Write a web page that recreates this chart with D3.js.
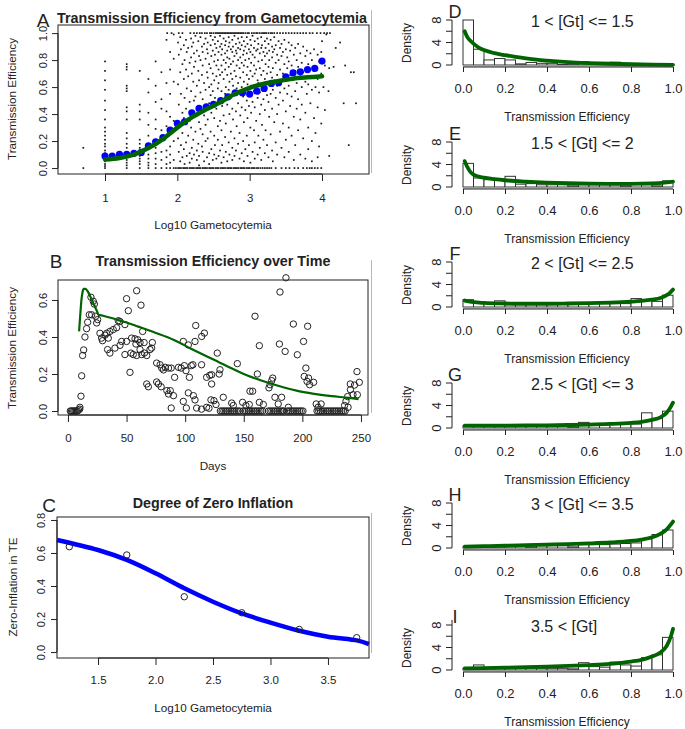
<!DOCTYPE html>
<html><head><meta charset="utf-8">
<script src="https://cdn.jsdelivr.net/npm/d3@7"></script>
<style>body{margin:0;background:#fff}</style></head>
<body><svg id="c" width="685" height="729"></svg>
<script>
const FONT = '"Liberation Sans", Arial, sans-serif';
const INK = "#222";
const GREEN = "#006400";
const BLUE = "#0000ff";

// ---------- Panel A data ----------
const aCols = [
 [0.70,[0.15,0]],
 [1.00,[0.79,0.72,0.65,0.58,0.5,0.43,0.36,0.3,0.27,0.24,0.21,0.18,0.16,0.13,0.11,0.09,0.07,0.05,0.03,0.015,0]],
 [1.30,[0.77,0.75,0.73,0.61,0.59,0.57,0.45,0.42,0.36,0.26,0.22,0.18,0.15,0.12,0.1,0.08,0.06,0.04,0.02,0]],
 [1.48,[0.72,0.47,0.42,0.36,0.21,0.18,0.15,0.12,0.09,0.07,0.05,0.03,0]],
 [1.60,[0.66,0.56,0.41,0.32,0.24,0.18,0.14,0.1,0.07,0.04,0.02,0]],
 [1.70,[0.79,0.61,0.49,0.36,0.29,0.21,0.15,0.11,0.07,0.03,0]],
 [1.78,[0.71,0.51,0.44,0.28,0.22,0.12,0.06,0]],
 [1.85,[0.95,0.63,0.42,0.31,0.13,0.08,0.03,0]],
 [1.90,[0.86,0.73,0.55,0.38,0.16,0.1,0.04,0]],
 [1.95,[0.99,0.81,0.64,0.35,0.2,0.06,0]],
 [2.01,[0.93,0.62,0.22]],[2.02,[0.84,0.47,0.12]],[2.04,[0.71,0.31,0.05,0.97]],[2.05,[0.88,0.55,0.17]],
 [2.07,[0.77,0.41,0.26,0.08]],[2.09,[0.91,0.66,0.37,0.14]],[2.10,[0.8,0.52,0.03]],[2.12,[0.95,0.73,0.44,0.19]],
 [2.13,[0.86,0.59,0.33,0.09]],[2.15,[0.89,0.68,0.24]],[2.17,[0.78,0.49,0.35,0.11,0.04]],[2.19,[0.96,0.82,0.57,0.3]],
 [2.20,[0.9,0.7,0.42,0.15,0.07]],[2.22,[0.93,0.64,0.38,0.21]],[2.23,[0.85,0.75,0.5,0.1]],[2.25,[0.98,0.79,0.53,0.27]],
 [2.27,[0.87,0.61,0.4,0.13,0.06]],[2.29,[0.94,0.72,0.46,0.18]],[2.30,[0.83,0.65,0.34,0.09,0.02]],[2.32,[0.97,0.8,0.56,0.29]],
 [2.34,[0.9,0.69,0.43,0.16]],[2.35,[0.86,0.76,0.51,0.25,0.12]],[2.37,[0.92,0.63,0.39,0.05]],[2.39,[0.96,0.81,0.58,0.32,0.2]],
 [2.41,[0.88,0.71,0.45,0.08]],[2.42,[0.93,0.85,0.67,0.36,0.22]],[2.44,[0.77,0.6,0.48,0.11,0.03]],[2.46,[0.98,0.91,0.74,0.54,0.27]],
 [2.47,[0.83,0.62,0.41,0.14]],[2.49,[0.95,0.87,0.7,0.57,0.06]],[2.51,[0.79,0.65,0.37,0.24,0.1]],[2.52,[0.97,0.92,0.84,0.52,0.17]],
 [2.54,[0.89,0.76,0.68,0.44,0.07]],[2.56,[0.94,0.8,0.59,0.31,0.21]],[2.57,[0.86,0.73,0.63,0.5,0.09]],[2.59,[0.98,0.9,0.69,0.35,0.13]],
 [2.61,[0.92,0.84,0.76,0.57,0.28,0.04]],[2.62,[0.88,0.71,0.46,0.17]],[2.64,[0.96,0.8,0.66,0.39,0.08]],[2.66,[0.91,0.85,0.73,0.55,0.23]],
 [2.67,[0.94,0.78,0.6,0.33,0.12]],[2.69,[0.87,0.82,0.69,0.47,0.05]],[2.71,[0.97,0.9,0.75,0.58,0.19]],[2.72,[0.93,0.81,0.64,0.4,0.1]],
 [2.74,[0.88,0.77,0.7,0.52,0.27]],[2.76,[0.95,0.86,0.66,0.44,0.15,0.06]],[2.77,[0.9,0.79,0.61,0.36]],[2.79,[0.98,0.83,0.72,0.54,0.22,0.09]],
 [2.81,[0.92,0.87,0.68,0.42,0.13]],[2.82,[0.85,0.76,0.59,0.31]],[2.84,[0.96,0.89,0.8,0.63,0.48,0.18]],[2.86,[0.93,0.74,0.56,0.26,0.07]],
 [2.87,[0.88,0.82,0.67,0.39]],[2.89,[0.97,0.91,0.78,0.6,0.45,0.11]],[2.91,[0.84,0.71,0.53,0.2]],[2.92,[0.94,0.87,0.76,0.64,0.34,0.05]],
 [2.94,[0.9,0.8,0.58,0.43,0.14]],[2.96,[0.97,0.85,0.69,0.5,0.24]],[2.97,[0.92,0.75,0.62,0.37,0.09]],[2.99,[0.88,0.81,0.66,0.46,0.17]],
 [3.01,[0.95,0.86,0.72,0.55,0.3,0.04]],[3.02,[0.91,0.78,0.61,0.41]],[3.04,[0.98,0.84,0.68,0.49,0.12]],[3.06,[0.89,0.76,0.57,0.28]],
 [3.07,[0.94,0.82,0.7,0.45,0.19,0.07]],[3.09,[0.87,0.73,0.6,0.35]],[3.11,[0.96,0.88,0.65,0.52,0.1]],[3.12,[0.92,0.79,0.63,0.24]],
 [3.14,[0.85,0.74,0.56,0.4,0.15]],[3.16,[0.97,0.89,0.69,0.47,0.06]],[3.17,[0.91,0.8,0.59,0.32]],[3.19,[0.86,0.72,0.51,0.21]],
 [3.21,[0.94,0.83,0.66,0.43,0.11]],[3.22,[0.89,0.77,0.6,0.28]],[3.24,[0.96,0.85,0.7,0.54,0.17]],[3.26,[0.92,0.75,0.49,0.08]],
 [3.27,[0.87,0.8,0.63,0.38]],[3.29,[0.95,0.71,0.55,0.25]],[3.31,[0.9,0.82,0.67,0.44,0.13]],[3.32,[0.86,0.74,0.58,0.05]],
 [3.34,[0.97,0.88,0.65,0.34]],[3.36,[0.91,0.78,0.52,0.19]],[3.38,[0.84,0.69,0.61,0.4,0.1]],[3.40,[0.94,0.8,0.47]],
 [3.42,[0.89,0.73,0.56,0.27]],[3.44,[0.92,0.83,0.64,0.15]],[3.46,[0.86,0.7,0.5,0.33]],[3.48,[0.95,0.77,0.59,0.08]],
 [3.50,[0.88,0.67,0.42,0.21]],[3.52,[0.82,0.74,0.55]],[3.54,[0.93,0.79,0.61,0.3,0.12]],[3.56,[0.87,0.69,0.46]],
 [3.58,[0.91,0.76,0.53,0.24]],[3.61,[0.84,0.66,0.38,0.06]],[3.63,[0.89,0.72,0.57,0.17]],[3.65,[0.8,0.63,0.44]],
 [3.67,[0.92,0.75,0.51,0.28]],[3.70,[0.85,0.68,0.36,0.1]],[3.72,[0.78,0.6,0.47]],[3.74,[0.9,0.71,0.22]],
 [3.77,[0.83,0.64,0.41,0.07]],[3.79,[0.87,0.73,0.55]],[3.81,[0.77,0.62,0.3,0.14]],[3.84,[0.85,0.68,0.48]],
 [3.86,[0.8,0.58,0.2,0.05]],[3.89,[0.88,0.72,0.37]],[3.91,[0.75,0.6,0.26]],[3.94,[0.84,0.66,0.45,0.08]],
 [3.96,[0.79,0.56,0.16]],[3.99,[0.86,0.7,0.33]]
];
const aTopRowX = [1.86,1.92,2.02,2.07,2.18,2.23,2.27,2.31,2.34,2.38,2.41,2.45,2.47,2.5,2.53,2.55,2.57,2.59,2.61,2.63,2.65,2.67,2.69,2.71,2.73,2.75,2.77,2.79,2.81,2.83,2.85,2.87,2.89,2.91,2.94,2.97,2.99,3.03,3.06,3.09,3.11,3.14,3.17,3.19,3.21,3.23,3.26,3.29,3.31,3.34,3.38,3.42,3.46,3.5,3.54,3.58,3.62,3.66,3.7,3.74,3.78,3.83,3.87,3.93,3.98,4.03,4.07,4.11];
const aZeroRowX = [1.98,2.01,2.03,2.05,2.08,2.1,2.12,2.14,2.17,2.19,2.21,2.23,2.26,2.28,2.3,2.32,2.35,2.37,2.39,2.41,2.44,2.46,2.48,2.5,2.53,2.55,2.57,2.6,2.62,2.64,2.66,2.69,2.71,2.73,2.75,2.78,2.8,2.82,2.84,2.87,2.89,2.91,2.93,2.96,2.98,3.0,3.03,3.05,3.07,3.1,3.12,3.15,3.18,3.21,3.24,3.27,3.3,3.36,3.44,3.5,3.55,3.62,3.67,3.74,3.79,3.83,3.86,3.9,3.94,3.99];
const aOutliers = [[4.04,0.76],[4.09,0.57],[4.1,0.74],[4.16,0.75],[4.19,0.89],[4.32,0.76],[4.4,0.71],[4.44,0.71],[4.3,0.48],[4.47,0.48],[4.04,0.43],[4.37,0.17],[4.1,0.09],[4.02,0.6],[4.0,0.94],[4.25,0.93],[4.06,0.99]];
const aMeanX = [1.0,1.1,1.2,1.3,1.4,1.5,1.6,1.7,1.8,1.9,2.0,2.1,2.2,2.3,2.4,2.5,2.6,2.7,2.8,2.9,3.0,3.1,3.2,3.3,3.4,3.5,3.6,3.7,3.8,3.9,4.0];
const aMeanY = [0.089,0.089,0.101,0.101,0.109,0.116,0.165,0.195,0.225,0.281,0.331,0.343,0.41,0.442,0.454,0.472,0.499,0.528,0.558,0.558,0.548,0.57,0.59,0.627,0.632,0.676,0.706,0.713,0.73,0.738,0.793];
const aFitX = [1.0,1.2,1.4,1.6,1.8,2.0,2.2,2.4,2.6,2.8,3.0,3.2,3.4,3.6,3.8,4.0];
const aFitY = [0.064,0.075,0.1,0.148,0.215,0.3,0.375,0.435,0.49,0.55,0.595,0.625,0.645,0.662,0.672,0.68];

// ---------- Panel B data ----------
const bPoints = [[2,0],[3,0],[4,0],[5,0],[6,0],[7,0],[8,0],[9,0.005],[10,0.01],
 [10.2,0.02],[11.1,0.08],[11.7,0.19],[12.5,0.3],[13.4,0.33],[14.5,0.4],[15.9,0.445],[16.8,0.48],[18.2,0.52],[20.2,0.52],[19.6,0.615],[21.6,0.593],[22.5,0.578],[23.6,0.512],[25.3,0.494],[24.5,0.476],[27.3,0.42],[28.7,0.394],[31.6,0.41],[29.5,0.38],
 [34.4,0.394],[33,0.42],[35.8,0.43],[38.6,0.44],[41.5,0.45],[42.9,0.488],[44.3,0.484],[48.6,0.467],[50,0.607],[51.5,0.542],[58.6,0.65],[62.3,0.572],
 [35.8,0.313],[33.8,0.332],[40.1,0.34],[44.4,0.355],[45.8,0.376],[50,0.376],[54.3,0.394],[57.2,0.39],[58,0.362],[59.5,0.385],[61.5,0.37],
 [48.6,0.305],[53.7,0.313],[55.7,0.305],[58.6,0.3],[61.5,0.332],[62.9,0.305],[65.2,0.313],[67.2,0.3],[70,0.332],[71.4,0.34],[72,0.37],[63.7,0.43],[65,0.37],
 [52.9,0.209],
 [75.7,0.259],[78.6,0.25],[80,0.232],[81.5,0.222],[83,0.236],[85.8,0.232],[88.1,0.232],[91,0.182],[94.3,0.236],[96.6,0.232],[99.3,0.245],[100.7,0.218],[105.2,0.245],[103.6,0.182],[106.6,0.25],[108.4,0.376],[109,0.462],[114.1,0.403],[116.4,0.421],[98.4,0.376],[102.7,0.357],[114,0.25],[118.3,0.182],[121,0.193],[122.6,0.146],
 [67.2,0.146],[68.6,0.131],[75.7,0.157],[77.2,0.146],[79.5,0.131],[84.4,0.11],[85.8,0.092],[87.3,0.11],[90,0.083],[98.4,0.052],[102.7,0.098],[107,0.083],[108.4,0.06],[88.1,0.016],[101,0.016],[109.8,0.016],[114,0.01],[118.3,0.02],[120.3,0.015],[122,0.06],
 [186,0.72],[180.9,0.643],[159.6,0.512],[192.3,0.47],[204.5,0.458],[163.3,0.353],[180.4,0.362],[185.3,0.322],[201,0.376],[195.7,0.304],[127.4,0.313],[129.7,0.223],[129,0.2],[122.6,0.196],[144.5,0.256],[161.6,0.2],[172.4,0.142],[173.8,0.164],[171.5,0.125],[174.7,0.178],[203,0.232],[201.6,0.187],[205.3,0.178],[206.2,0.142],[209.6,0.155],[204,0.16],[155.3,0.107],[157.6,0.107],[132.5,0.074],[124.6,0.056],[126.3,0.035],[139.7,0.043],[141.1,0.03],[149,0.047],[151.8,0.03],[154.7,0.035],[163.3,0.047],[166.7,0.035],[176.6,0.074],[182.3,0.074],[179.4,0.038],[188,0.02],[211.8,0.038],[216,0.038],[213.4,0.02],[246.6,0.213],[248.6,0.155],[240.9,0.146],[243.2,0.088],[238.6,0.078],[237.2,0.053],[246.9,0.088],[241,0.115],[244.5,0.14],[236,0.03],[239,0.02]];
const bZeroDays = [130,131.5,133,134.5,136,137.5,139,140.5,142,143.5,145,146.5,
 149.5,151,152.5,154,155.5,157,158.5,160,161.5,163,164.5,166,
 171,172.5,174,175.5,177,178.5,180,181.5,183,184,
 187,188.5,190,191.5,193,194.5,196,197.5,199,200.5,
 212.5,214,215.5,217,218.5,220,221.5,223,224.5,226,227.5,229,230.5,232,233.5,235,236.5];
const bFit = [[9.5,0.43],[10.5,0.52],[11.5,0.6],[12.5,0.645],[13.5,0.66],[15,0.66],[17,0.645],[19,0.62],[21,0.59],[23,0.565],[25,0.535],[26,0.52],[30,0.515],[40,0.497],[50,0.478],[60,0.456],[75,0.422],[90,0.385],[105,0.337],[120,0.29],[135,0.245],[150,0.2],[165,0.165],[180,0.135],[195,0.11],[210,0.093],[225,0.08],[240,0.071],[248,0.064]];

// ---------- Panel C data ----------
const cX = [1.25,1.75,2.25,2.75,3.25,3.75];
const cY = [0.638,0.588,0.335,0.238,0.137,0.087];
const cFit = [[1.143,0.679],[1.5,0.618],[1.75,0.558],[2.0,0.477],[2.25,0.386],[2.5,0.305],[2.75,0.234],[3.0,0.178],[3.25,0.129],[3.5,0.093],[3.76,0.069],[3.857,0.048]];

// ---------- Panels D–I data ----------
const histLetters = ["D","E","F","G","H","I"];
const histLabels = ["1 < [Gt] <= 1.5","1.5 < [Gt] <= 2","2 < [Gt] <= 2.5","2.5 < [Gt] <= 3","3 < [Gt] <= 3.5","3.5 < [Gt]"];
const histBins = [0,0.05,0.1,0.15,0.2,0.25,0.3,0.35,0.4,0.45,0.5,0.55,0.6,0.65,0.7,0.75,0.8,0.85,0.9,0.95,1.0];
const histD = [8.0,2.8,0.9,1.15,0.9,0.2,0.45,0.3,0.3,0.1,0.2,0.55,0.2,0.2,0.5,0.2,0,0,0,0];
const histE = [4.2,1.6,1.3,1.2,1.9,0.5,0.6,0.4,0.4,0.4,0.2,0.4,0.4,0.4,0.4,0.2,0.7,0.4,0.2,1.1];
const histF = [1.3,0.7,0.7,1.1,0.4,0.5,0.5,0.5,0.5,0.5,0.8,0.6,0.6,0.6,0.6,0.6,1.5,1.2,1.0,2.1];
const histG = [0.4,0.4,0.4,0.4,0.4,0.4,0.4,0.4,0.4,0.4,0.2,1.0,0.8,0.7,0.8,0.9,0.7,2.7,1.7,3.0];
const histH = [0.2,0.2,0.2,0.4,0.4,0.4,0.2,0.4,0.4,0.4,0.2,0.6,0.6,0.6,0.7,0.8,0.9,1.6,2.4,3.2];
const histI = [0.3,0.9,0.3,0.3,0.3,0.6,0.3,0.3,0.3,0.3,0.2,1.3,0.6,0.5,1.4,0.9,0.7,2.2,2.7,5.8];
const fitD = [[0.008,6.0],[0.02,5.0],[0.035,4.3],[0.05,3.8],[0.075,3.1],[0.1,2.65],[0.15,2.1],[0.2,1.75],[0.25,1.45],[0.3,1.18],[0.35,0.95],[0.4,0.78],[0.5,0.52],[0.6,0.35],[0.7,0.22],[0.8,0.13],[0.9,0.07],[1.0,0.03]];
const fitE = [[0.008,4.6],[0.02,3.6],[0.035,2.7],[0.05,2.2],[0.075,1.85],[0.1,1.65],[0.15,1.4],[0.2,1.2],[0.3,0.95],[0.4,0.78],[0.5,0.67],[0.6,0.6],[0.7,0.57],[0.8,0.57],[0.9,0.63],[0.95,0.72],[1.0,0.95]];
const fitF = [[0.008,1.15],[0.05,0.85],[0.1,0.72],[0.2,0.62],[0.3,0.58],[0.4,0.58],[0.5,0.62],[0.6,0.68],[0.7,0.78],[0.8,0.95],[0.85,1.08],[0.9,1.3],[0.94,1.6],[0.97,2.1],[0.99,2.7],[1.0,3.1]];
const fitG = [[0.008,0.42],[0.1,0.42],[0.2,0.43],[0.3,0.45],[0.4,0.48],[0.5,0.53],[0.6,0.6],[0.7,0.72],[0.8,0.92],[0.85,1.1],[0.9,1.45],[0.94,1.9],[0.97,2.7],[0.99,3.8],[1.0,4.5]];
const fitH = [[0.008,0.25],[0.1,0.32],[0.2,0.4],[0.3,0.5],[0.4,0.6],[0.5,0.7],[0.6,0.82],[0.7,0.98],[0.8,1.25],[0.85,1.5],[0.9,1.9],[0.94,2.5],[0.97,3.3],[0.99,4.2],[1.0,4.7]];
const fitI = [[0.008,0.3],[0.1,0.35],[0.2,0.42],[0.3,0.5],[0.4,0.6],[0.5,0.72],[0.6,0.88],[0.7,1.1],[0.8,1.5],[0.85,1.8],[0.9,2.4],[0.94,3.1],[0.97,4.3],[0.99,6.0],[1.0,7.3]];
const histTicksX = [0,0.2,0.4,0.6,0.8,1.0];
const histTicksY = [0,2,4,6,8];
const histLabelY = [0,4,8];

// ---------- helpers ----------
const svg = d3.select("#c");

function txt(x, y, s, size, opts = {}) {
  const t = svg.append("text").attr("x", x).attr("y", y).text(s)
    .attr("font-family", FONT).attr("font-size", size).attr("fill", opts.fill || INK)
    .attr("text-anchor", opts.anchor || "middle");
  if (opts.bold) t.attr("font-weight", "bold");
  if (opts.rot) t.attr("transform", `rotate(-90,${x},${y})`);
  return t;
}

function leftAxis(x, scale, ticks, fmt, fs, labelOff, tickLen) {
  const g = svg.append("g").attr("transform", `translate(${x},0)`)
    .call(d3.axisLeft(scale).tickValues(ticks).tickFormat(fmt).tickSize(tickLen).tickSizeOuter(0));
  g.select(".domain").remove();
  g.append("line").attr("x1", 0).attr("x2", 0)
    .attr("y1", scale(ticks[0])).attr("y2", scale(ticks[ticks.length - 1])).attr("stroke", INK);
  g.selectAll(".tick line").attr("stroke", INK);
  g.selectAll(".tick text").attr("transform", "rotate(-90)").attr("x", 0).attr("y", -labelOff)
    .attr("dy", 0).attr("text-anchor", "middle").attr("font-size", fs)
    .attr("font-family", FONT).attr("fill", INK);
  return g;
}

function bottomAxis(y, scale, ticks, fmt, fs, labelOff, tickLen) {
  const g = svg.append("g").attr("transform", `translate(0,${y})`)
    .call(d3.axisBottom(scale).tickValues(ticks).tickFormat(fmt).tickSize(tickLen).tickSizeOuter(0));
  g.select(".domain").remove();
  g.append("line").attr("y1", 0).attr("y2", 0)
    .attr("x1", scale(ticks[0])).attr("x2", scale(ticks[ticks.length - 1])).attr("stroke", INK);
  g.selectAll(".tick line").attr("stroke", INK);
  g.selectAll(".tick text").attr("y", labelOff).attr("dy", 0).attr("font-size", fs)
    .attr("font-family", FONT).attr("fill", INK);
  return g;
}

function box(xs, ys) {
  svg.append("rect").attr("x", xs.range()[0]).attr("y", ys.range()[1])
    .attr("width", xs.range()[1] - xs.range()[0]).attr("height", ys.range()[0] - ys.range()[1])
    .attr("fill", "none").attr("stroke", INK);
}

const f1 = d3.format(".1f");

// ---------- Panel A ----------
{
  const x = d3.scaleLinear().domain([0.35, 4.65]).range([58, 369]);
  const y = d3.scaleLinear().domain([-0.044, 1.06]).range([174, 25]);
  const pts = aCols.flatMap(([cx, ys]) => ys.map(v => [cx, v]))
    .concat(aTopRowX.map(v => [v, 1.0]))
    .concat(aZeroRowX.map(v => [v, 0]))
    .concat(aOutliers);
  svg.append("g").selectAll("rect").data(pts).join("rect")
    .attr("x", d => x(d[0]) - 0.85).attr("y", d => y(d[1]) - 0.85)
    .attr("width", 1.7).attr("height", 1.7).attr("fill", "#1a1a1a");
  svg.append("g").selectAll("circle").data(aMeanX).join("circle")
    .attr("cx", d => x(d)).attr("cy", (d, i) => y(aMeanY[i])).attr("r", 3.6).attr("fill", BLUE);
  svg.append("path").datum(aFitX.map((d, i) => [d, aFitY[i]]))
    .attr("d", d3.line().x(d => x(d[0])).y(d => y(d[1])).curve(d3.curveCatmullRom))
    .attr("fill", "none").attr("stroke", GREEN).attr("stroke-width", 4.5).attr("stroke-linecap", "round");
  box(x, y);
  leftAxis(58, y, [0, 0.2, 0.4, 0.6, 0.8, 1.0], f1, 11, 11, 6);
  bottomAxis(174, x, [1, 2, 3, 4], d3.format("d"), 11.5, 28, 7);
  txt(212, 23, "Transmission Efficiency from Gametocytemia", 14.3, { bold: true });
  txt(43, 27, "A", 19);
  txt(213, 229, "Log10 Gametocytemia", 11.7);
  txt(16, 99, "Transmission Efficiency", 11.7, { rot: true });
}

// ---------- Panel B ----------
{
  const x = d3.scaleLinear().domain([-8.5, 256]).range([58, 368]);
  const y = d3.scaleLinear().domain([-0.0216, 0.708]).range([415, 280]);
  const pts = bPoints.concat(bZeroDays.map(d => [d, 0]));
  svg.append("g").selectAll("circle").data(pts).join("circle")
    .attr("cx", d => x(d[0])).attr("cy", d => y(d[1])).attr("r", 3.2)
    .attr("fill", "none").attr("stroke", INK).attr("stroke-width", 1);
  svg.append("path").datum(bFit)
    .attr("d", d3.line().x(d => x(d[0])).y(d => y(d[1])).curve(d3.curveMonotoneX))
    .attr("fill", "none").attr("stroke", GREEN).attr("stroke-width", 2.2);
  box(x, y);
  leftAxis(58, y, [0, 0.2, 0.4, 0.6], f1, 11, 11, 6);
  bottomAxis(415, x, [0, 50, 100, 150, 200, 250], d3.format("d"), 11.5, 27, 7);
  txt(213, 266, "Transmission Efficiency over Time", 14.3, { bold: true });
  txt(56, 268, "B", 19);
  txt(213, 470, "Days", 11.7);
  txt(16, 348, "Transmission Efficiency", 11.7, { rot: true });
}

// ---------- Panel C ----------
{
  const x = d3.scaleLinear().domain([1.143, 3.857]).range([57, 369]);
  const y = d3.scaleLinear().domain([-0.036, 0.818]).range([658, 517]);
  svg.append("path").datum(cFit)
    .attr("d", d3.line().x(d => x(d[0])).y(d => y(d[1])).curve(d3.curveCatmullRom))
    .attr("fill", "none").attr("stroke", BLUE).attr("stroke-width", 4.5);
  svg.append("g").selectAll("circle").data(cX).join("circle")
    .attr("cx", d => x(d)).attr("cy", (d, i) => y(cY[i])).attr("r", 3.2)
    .attr("fill", "none").attr("stroke", INK).attr("stroke-width", 1);
  box(x, y);
  leftAxis(57, y, [0, 0.2, 0.4, 0.6, 0.8], f1, 11, 12, 6);
  bottomAxis(658, x, [1.5, 2.0, 2.5, 3.0, 3.5], f1, 11.5, 26, 7);
  txt(213, 508, "Degree of Zero Inflation", 14.3, { bold: true });
  txt(49, 512, "C", 19);
  txt(213, 712, "Log10 Gametocytemia", 11.7);
  txt(17, 587, "Zero-Inflation in TE", 11.7, { rot: true });
}

// faint separator segments seen in the reference
[[10, 173], [260, 413], [513, 653]].forEach(([a, b]) =>
  svg.append("line").attr("x1", 371.5).attr("x2", 371.5).attr("y1", a).attr("y2", b)
    .attr("stroke", "#b8b8b8").attr("stroke-width", 1));

// ---------- Panels D–I ----------
{
  const hs = [histD, histE, histF, histG, histH, histI];
  const fits = [fitD, fitE, fitF, fitG, fitH, fitI];
  const zeros = [65, 187, 307, 428, 548, 670];
  const x = d3.scaleLinear().domain([0, 1]).range([463, 673]);
  hs.forEach((h, k) => {
    const Z = zeros[k];
    const y = d3.scaleLinear().domain([0, 8]).range([Z, Z - 45]);
    const bars = h.map((v, i) => ({ x0: histBins[i], x1: histBins[i + 1], v }));
    svg.append("g").selectAll("rect").data(bars).join("rect")
      .attr("x", d => x(d.x0)).attr("y", d => y(d.v))
      .attr("width", d => x(d.x1) - x(d.x0)).attr("height", d => y(0) - y(d.v))
      .attr("fill", "#fff").attr("stroke", "#333").attr("stroke-width", 1);
    svg.append("line").attr("x1", x(0)).attr("x2", x(1)).attr("y1", Z + 0.8).attr("y2", Z + 0.8)
      .attr("stroke", "#999").attr("stroke-width", 1.6);
    svg.append("path").datum(fits[k])
      .attr("d", d3.line().x(d => x(d[0])).y(d => y(d[1])).curve(d3.curveMonotoneX))
      .attr("fill", "none").attr("stroke", GREEN).attr("stroke-width", 3.8).attr("stroke-linecap", "round");
    bottomAxis(Z + 2, x, histTicksX, f1, 13, 26, 5);
    const ytop = k === 5 ? 8.9 : 8;
    const ax = svg.append("g").attr("transform", "translate(452,0)");
    ax.append("line").attr("x1", 0).attr("x2", 0).attr("y1", y(0)).attr("y2", y(ytop)).attr("stroke", INK);
    ax.selectAll("line.t").data(histTicksY).join("line").attr("class", "t")
      .attr("x1", -6).attr("x2", 0).attr("y1", d => y(d)).attr("y2", d => y(d)).attr("stroke", INK);
    histLabelY.forEach(v => txt(441, y(v), String(v), 13, { rot: true }));
    txt(411, Z - 22, "Density", 12, { rot: true });
    txt(567, Z + 56, "Transmission Efficiency", 12);
    txt(531, Z - 38, histLabels[k], 16, { anchor: "start" });
    txt(455, Z - 47, histLetters[k], 18);
  });
}
</script></body></html>
